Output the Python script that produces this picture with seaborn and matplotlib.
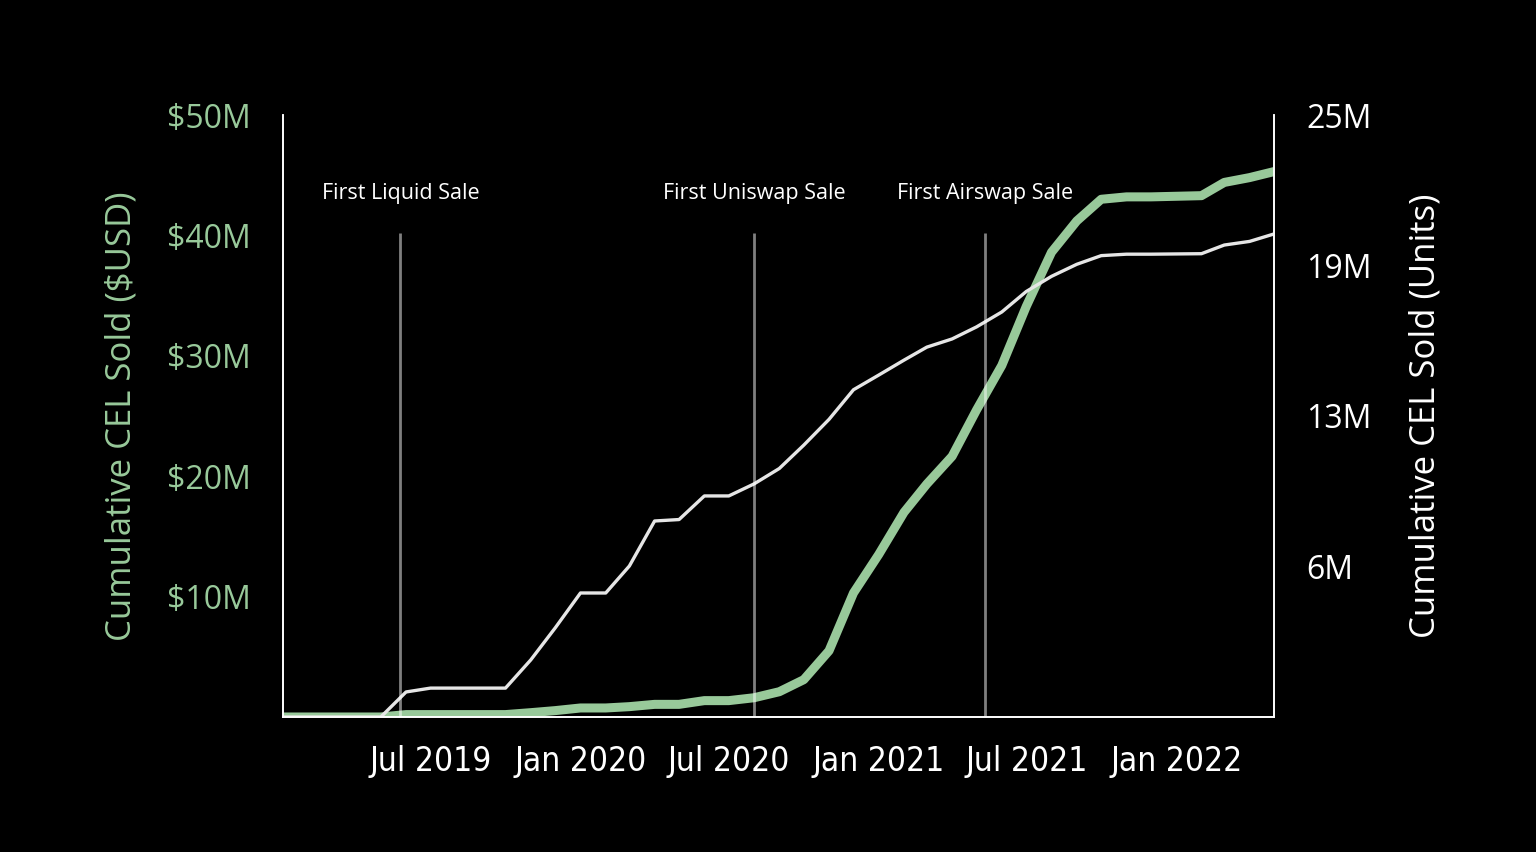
import pandas as pd
import matplotlib.pyplot as plt
import matplotlib.dates as mdates
import seaborn as sns

# monthly data, Jan 2019 .. May 2022
months = pd.date_range('2019-01-01', periods=41, freq='MS')

usd_sold_m = [0, 0, 0, 0, 0, 0.2, 0.2, 0.2, 0.2, 0.2, 0.36, 0.53,
              0.75, 0.75, 0.86, 1.05, 1.05, 1.36, 1.36, 1.6, 2.1, 3.1, 5.5, 10.3,
              13.5, 17.0, 19.35, 21.65, 25.5, 29.2, 34.1, 38.6, 41.2, 43.0, 43.2, 43.2,
              43.25, 43.3, 44.4, 44.8, 45.3]
units_sold_m = [0, 0, 0, 0, 0, 1.04, 1.2, 1.2, 1.2, 1.2, 2.37, 3.7,
                5.15, 5.15, 6.27, 8.14, 8.2, 9.18, 9.18, 9.68, 10.32, 11.29, 12.36, 13.59,
                14.2, 14.82, 15.36, 15.7, 16.2, 16.82, 17.67, 18.3, 18.8, 19.16, 19.22, 19.22,
                19.23, 19.24, 19.6, 19.75, 20.06]

events = ['First Liquid Sale', 'First Uniswap Sale', 'First Airswap Sale']
event_dates = pd.to_datetime(['2019-05-25', '2020-08-01', '2021-05-11'])

left_ticks = [10e6, 20e6, 30e6, 40e6, 50e6]
left_labels = ['$10M', '$20M', '$30M', '$40M', '$50M']
right_ticks = [6.25e6, 12.5e6, 18.75e6, 25e6]
right_labels = ['6M', '13M', '19M', '25M']
x_ticks = pd.to_datetime(['2019-07-01', '2020-01-01', '2020-07-01', '2021-01-01', '2021-07-01', '2022-01-01'])

df = pd.DataFrame({'month': months,
                   'usd': [v * 1e6 for v in usd_sold_m],
                   'units': [v * 1e6 for v in units_sold_m]})

green = '#98c99a'
sns.set_style('dark')
plt.rcParams['font.family'] = ['Open Sans', 'DejaVu Sans']

fig = plt.figure(figsize=(15.36, 8.52), dpi=100, facecolor='black')
ax = fig.add_axes([283 / 1536, 1 - 717 / 852, (1274 - 283) / 1536, (717 - 115) / 852])
ax.set_facecolor('black')
ax2 = ax.twinx()

sns.lineplot(data=df, x='month', y='usd', ax=ax, color=green, linewidth=6.5)
sns.lineplot(data=df, x='month', y='units', ax=ax2, color='#e6e6e6', linewidth=2.4)

# event markers
ax2.vlines(event_dates, 0, 40.2e6 / 2, color='white', alpha=0.5, linewidth=2, zorder=5)
for name, d in zip(events, event_dates):
    ax.text(d, 43.5e6, name, color='white', fontsize=15.5, ha='center', va='center')

ax.set_xlim(months[0], months[-1])
ax.set_ylim(0, 50e6)
ax2.set_ylim(0, 25e6)

ax.set_xticks(x_ticks)
ax.xaxis.set_major_formatter(mdates.DateFormatter('%b %Y'))
ax.set_yticks(left_ticks)
ax.set_yticklabels(left_labels)
ax2.set_yticks(right_ticks)
ax2.set_yticklabels(right_labels)

ax.tick_params(axis='x', length=0, pad=20, labelsize=24, labelcolor='white')
ax.tick_params(axis='y', length=0, pad=23, labelsize=23, labelcolor=green)
ax2.tick_params(axis='y', length=0, pad=23, labelsize=23, labelcolor='white')
for lab in ax.get_xticklabels():
    lab.set_family('DejaVu Sans')
    lab.set_stretch('condensed')

ax.set_xlabel('')
ax.set_ylabel('Cumulative CEL Sold ($USD)', color=green, fontsize=25, labelpad=21)
ax2.set_ylabel('Cumulative CEL Sold (Units)', color='white', fontsize=25, labelpad=27)

for a in (ax, ax2):
    a.grid(False)
    a.set_facecolor('none')
    a.spines['top'].set_visible(False)
    for s in ('left', 'right', 'bottom'):
        a.spines[s].set_visible(True)
        a.spines[s].set_color('white')
        a.spines[s].set_linewidth(1.2)

fig.savefig('out.png', dpi=100, facecolor='black')
